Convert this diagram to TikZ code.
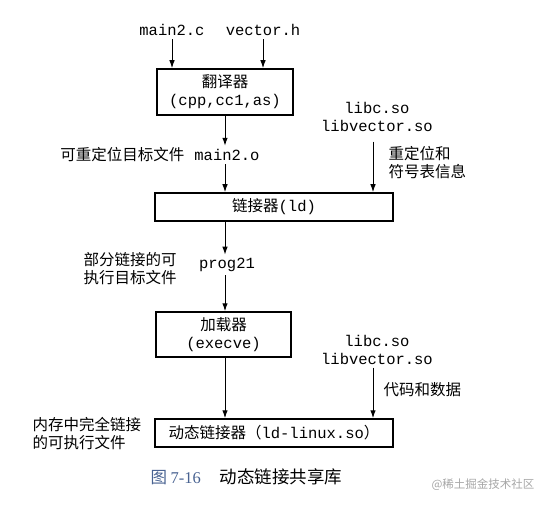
\documentclass[tikz,border=0pt]{standalone}
\usepackage{fontspec}
\setmainfont{Liberation Serif}
\setmonofont{Liberation Mono}
\newfontfamily\cjk{Noto Sans CJK SC}
\usetikzlibrary{arrows.meta}
\definecolor{capblue}{RGB}{72,98,145}
\newcommand\tsize{\fontsize{15.5}{18}\selectfont}
\begin{document}
\begin{tikzpicture}[x=1pt,y=-1pt,
    box/.style={draw, line width=1.5pt, inner sep=0pt, align=center, font=\cjk\tsize},
    fname/.style={font=\ttfamily\tsize, align=center},
    note/.style={font=\cjk\tsize, align=left},
    arr/.style={-{Latex[length=8pt,width=5.5pt]}, line width=1pt}
]
\useasboundingbox (0,0) rectangle (551,505);
% inputs and translator
\node[fname] (mainc) at (172,30) {main2.c};
\node[fname] (vech) at (263,30) {vector.h};
\node[box, minimum width=136pt, minimum height=46pt] (trans) at (225,92) {翻译器\\\texttt{(cpp,cc1,as)}};
\node[fname] (maino) at (227,155) {main2.o};
\node[note, anchor=east] (reloc) at (188,155) {可重定位目标文件};
% shared libraries, link time
\node[fname] (libsA) at (377,116.5) {libc.so\\libvector.so};
\node[note, anchor=west] (symb) at (385,163) {重定位和\\符号表信息};
\node[box, minimum width=238pt, minimum height=28pt] (link) at (274,207) {链接器\texttt{(ld)}};
\node[fname] (prog) at (227,265) {prog21};
\node[note, anchor=west] (part) at (80,269) {部分链接的可\\执行目标文件};
% loader
\node[box, minimum width=135pt, minimum height=45pt] (load) at (223.5,334.5) {加载器\\\texttt{(execve)}};
\node[fname] (libsB) at (377,349.5) {libc.so\\libvector.so};
\node[note, anchor=west] (code) at (380,390) {代码和数据};
\node[box, minimum width=238pt, minimum height=28pt] (dyn) at (274,433) {动态链接器（\texttt{ld-linux.so}）};
\node[note, anchor=west] (full) at (29,434) {内存中完全链接\\的可执行文件};
% caption
\node[anchor=west, font=\cjk\fontsize{16.5}{18}\selectfont] (cap) at (147,477)
  {{\color{capblue}图 \rmfamily 7-16}\hspace{19pt}{\fontsize{17.5}{18}\selectfont 动态链接共享库}};
\node[anchor=east, text=black!35, font=\cjk\fontsize{11.5}{13}\selectfont] (mark) at (538,485) {@稀土掘金技术社区};
\coordinate (spine) at (225,0);
\coordinate (libx) at (373,0);
\draw[arr] (mainc.south) -- (mainc.south |- trans.north);
\draw[arr] (vech.south) -- (vech.south |- trans.north);
\foreach \a/\b in {trans.south/maino.north, maino.south/link.north, link.south/prog.north,
    prog.south/load.north, load.south/dyn.north}
  \draw[arr] (\a -| spine) -- (\b -| spine);
\draw[arr, shorten <=7pt] (libsA.south -| libx) -- (link.north -| libx);
\draw[arr] (libsB.south -| libx) -- (dyn.north -| libx);
\end{tikzpicture}
\end{document}
